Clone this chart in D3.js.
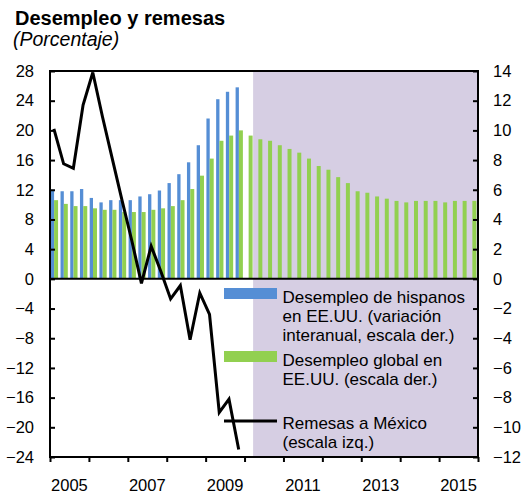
<!DOCTYPE html>
<html>
<head>
<meta charset="utf-8">
<script src="https://cdn.jsdelivr.net/npm/d3@7"></script>
<style>
  body { margin: 0; background: #fff; }
  text { font-family: "Liberation Sans", Arial, sans-serif; fill: #000; }
</style>
</head>
<body>
<script>
//quarterly series, first quarter is 2005Q1
var startYear = 2005;

//hispanic unemployment, 2005Q1-2009Q4 (right scale)
var hispanos = [6.0, 5.9, 5.9, 6.05, 5.45, 5.15, 5.3, 5.3, 5.3, 5.55, 5.7, 5.95,
                6.45, 7.05, 7.85, 9.0, 10.8, 12.1, 12.6, 12.9];

//total US unemployment, 2005Q1-2015Q4 (right scale)
var global = [5.3, 5.05, 4.9, 4.9, 4.75, 4.65, 4.65, 4.5, 4.5, 4.5, 4.65, 4.75,
              4.9, 5.3, 6.05, 6.95, 8.1, 9.3, 9.65, 10.0,
              9.65, 9.4, 9.3, 9.0, 8.75, 8.5, 8.1, 7.6, 7.35, 6.85, 6.45, 5.9,
              5.8, 5.55, 5.4, 5.25, 5.15, 5.25, 5.25, 5.25, 5.15, 5.25, 5.25, 5.25];

//remittances to Mexico, 2005Q1-2009Q4 (left scale)
var remesas = [20.2, 15.5, 14.9, 23.4, 27.8, 21.8, 16.2, 10.6, 5.2, -0.6, 4.4, 1.0,
               -2.7, -0.9, -8.2, -1.9, -4.8, -18.0, -16.2, -23.0];

//ticks
var leftTicks = [28, 24, 20, 16, 12, 8, 4, 0, -4, -8, -12, -16, -20, -24];
var rightTicks = [14, 12, 10, 8, 6, 4, 2, 0, -2, -4, -6, -8, -10, -12];
var yearTicks = [2005, 2006, 2007, 2008, 2009, 2010, 2011, 2012, 2013, 2014, 2015, 2016];
var yearLabels = [2005, 2007, 2009, 2011, 2013, 2015];
var projStart = 2010.22; //start of shaded projection period

var legendLabels = [
  ["Desempleo de hispanos", "en EE.UU. (variación", "interanual, escala der.)"],
  ["Desempleo global en", "EE.UU. (escala der.)"],
  ["Remesas a México", "(escala izq.)"]
];

var width = 526, height = 494;
var plot = {left: 50, right: 478, top: 71, bottom: 457};

var svg = d3.select("body").append("svg")
    .attr("width", width)
    .attr("height", height);

var x = d3.scaleLinear().domain([2005, 2016]).range([plot.left, plot.right]);
var yL = d3.scaleLinear().domain([-24, 28]).range([plot.bottom, plot.top]);
var yR = d3.scaleLinear().domain([-12, 14]).range([plot.bottom, plot.top]);
var qw = x(startYear + 0.25) - x(startYear); //width of one quarter

function qTime(i){ return startYear + i / 4; }

//shaded projection area
svg.append("rect")
    .attr("x", x(projStart))
    .attr("y", plot.top)
    .attr("width", x(2016) - x(projStart))
    .attr("height", plot.bottom - plot.top)
    .style("fill", "#d6cee3");

//bars
svg.selectAll(".hisp")
    .data(hispanos)
    .enter()
    .append("rect")
    .attr("class", "hisp")
    .attr("x", function(d, i){ return x(qTime(i)) + qw * 0.08; })
    .attr("width", qw * 0.34)
    .attr("y", function(d){ return yR(d); })
    .attr("height", function(d){ return yR(0) - yR(d); })
    .style("fill", "#558ed5");

svg.selectAll(".glob")
    .data(global)
    .enter()
    .append("rect")
    .attr("class", "glob")
    .attr("x", function(d, i){ return x(qTime(i)) + qw * 0.42; })
    .attr("width", qw * 0.41)
    .attr("y", function(d){ return yR(d); })
    .attr("height", function(d){ return yR(0) - yR(d); })
    .style("fill", "#92d050");

//zero line
svg.append("line")
    .attr("x1", plot.left).attr("x2", plot.right)
    .attr("y1", yL(0)).attr("y2", yL(0))
    .style("stroke", "#000").style("stroke-width", 2);

//remittances line
var line = d3.line()
    .x(function(d, i){ return x(qTime(i)) + qw * 0.4; })
    .y(function(d){ return yL(d); });

svg.append("path")
    .datum(remesas)
    .attr("d", line)
    .style("fill", "none")
    .style("stroke", "#000")
    .style("stroke-width", 3)
    .style("stroke-linejoin", "miter");

//frame
svg.append("rect")
    .attr("x", plot.left).attr("y", plot.top)
    .attr("width", plot.right - plot.left)
    .attr("height", plot.bottom - plot.top)
    .style("fill", "none")
    .style("stroke", "#000")
    .style("stroke-width", 2);

//axes
var leftAxis = d3.axisLeft(yL).tickValues(leftTicks).tickSizeInner(-5).tickSizeOuter(0).tickPadding(16);
var rightAxis = d3.axisRight(yR).tickValues(rightTicks).tickSizeInner(-5).tickSizeOuter(0).tickPadding(15);
var bottomAxis = d3.axisBottom(x).tickValues(yearTicks).tickSize(5).tickFormat("");

var gl = svg.append("g").attr("transform", "translate(" + plot.left + ",0)").call(leftAxis);
var gr = svg.append("g").attr("transform", "translate(" + plot.right + ",0)").call(rightAxis);
var gb = svg.append("g").attr("transform", "translate(0," + plot.bottom + ")").call(bottomAxis);

[gl, gr, gb].forEach(function(g){
  g.select(".domain").remove();
  g.selectAll(".tick line").style("stroke", "#000").style("stroke-width", 2);
  g.selectAll(".tick text").style("font-size", "16.5px").style("fill", "#000")
      .style("font-family", "'Liberation Sans', Arial, sans-serif");
});

//year labels centred in their year
svg.selectAll(".yr")
    .data(yearLabels)
    .enter()
    .append("text")
    .attr("class", "yr")
    .attr("x", function(d){ return x(d + 0.5); })
    .attr("y", 491)
    .attr("text-anchor", "middle")
    .style("font-size", "16.5px")
    .text(function(d){ return d; });

//legend
var lx = 224, lw = 53, tx = 282.5;
svg.append("rect").attr("x", lx).attr("y", 288).attr("width", lw).attr("height", 11)
    .style("fill", "#558ed5");
svg.append("rect").attr("x", lx).attr("y", 351).attr("width", lw).attr("height", 11)
    .style("fill", "#92d050");
svg.append("line").attr("x1", lx).attr("x2", lx + lw).attr("y1", 421).attr("y2", 421)
    .style("stroke", "#000").style("stroke-width", 3);

var legendY = [302.5, 366, 429];
legendLabels.forEach(function(lines, k){
  svg.append("text")
      .attr("x", tx)
      .attr("y", legendY[k])
      .style("font-size", "17px")
      .selectAll("tspan")
      .data(lines)
      .enter()
      .append("tspan")
      .attr("x", tx)
      .attr("dy", function(d, i){ return i === 0 ? 0 : 19.4; })
      .text(function(d){ return d; });
});

//title
svg.append("text")
    .attr("x", 15).attr("y", 25)
    .style("font-size", "20px")
    .style("font-weight", "bold")
    .text("Desempleo y remesas");
svg.append("text")
    .attr("x", 13).attr("y", 46)
    .style("font-size", "19.5px")
    .style("font-style", "italic")
    .text("(Porcentaje)");
</script>
</body>
</html>
